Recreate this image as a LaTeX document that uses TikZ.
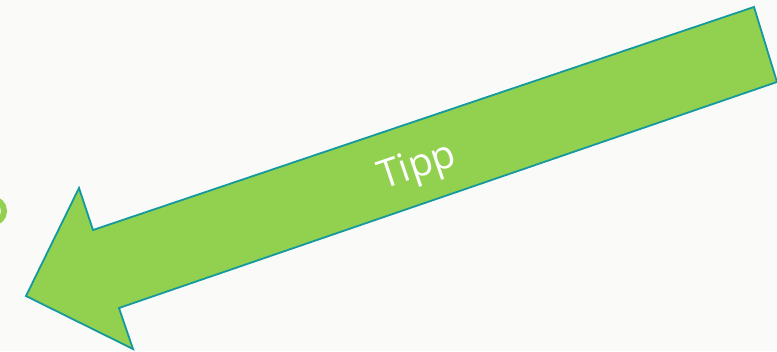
\documentclass[tikz,border=0pt]{standalone}
\usepackage{fontspec}
\setmainfont{Open Sans}
\definecolor{bgc}{HTML}{FAFAF8}
\definecolor{arrowfill}{HTML}{92D050}
\definecolor{arrowline}{HTML}{14999E}
\begin{document}
\begin{tikzpicture}[x=1pt,y=-1pt,
  bigarrow/.style={fill=arrowfill,draw=arrowline,line width=1.8pt,line join=miter},
  arrowlabel/.style={text=white,font=\fontsize{39}{46}\selectfont,rotate=18.6,inner sep=0pt}]
\fill[bgc] (0,0) rectangle (777,351);
\useasboundingbox (0,0) rectangle (777,351);
\begin{scope}
\clip (0,0) rectangle (777,351);
\draw[arrowfill,line width=6pt] (-8,199) arc[start angle=-90,end angle=90,radius=12];
\coordinate (tip) at (26,296);
\coordinate (ub) at (79,188);
\coordinate (ui) at (93,230);
\coordinate (tr) at (754,7);
\coordinate (br) at (777,82);
\coordinate (li) at (119,308);
\coordinate (lb) at (133,349);
\draw[bigarrow] (tip) -- (ub) -- (ui) -- (tr) -- (br) -- (li) -- (lb) -- cycle;
\end{scope}
\node[arrowlabel] (lbl) at (418,168) {Tipp};
\end{tikzpicture}
\end{document}
